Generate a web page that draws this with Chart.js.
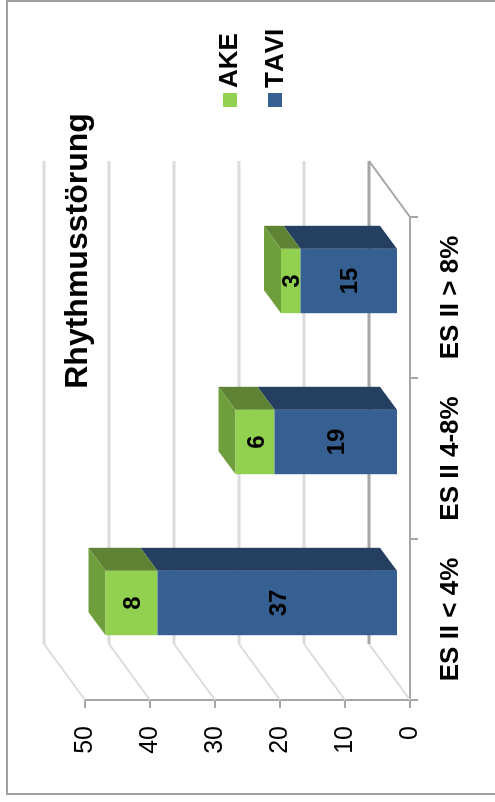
<!DOCTYPE html>
<html>
<head>
<meta charset="utf-8">
<style>
  html, body { margin: 0; padding: 0; background: #fff; overflow: hidden; }
  body { width: 495px; height: 802px; position: relative; }
  /* The chart reads sideways: the canvas is turned a quarter-turn to the left. */
  #stage { position: absolute; left: 0; top: 802px; width: 802px; height: 495px;
           transform-origin: 0 0; transform: rotate(-90deg); }
</style>
<script src="https://cdn.jsdelivr.net/npm/chart.js@4"></script>
</head>
<body>
<div id="stage"><canvas id="chart" width="802" height="495"></canvas></div>
<script>
const chartTitle = 'Rhythmusstörung';
const categories = ['ES II < 4%', 'ES II 4-8%', 'ES II > 8%'];
const tavi = [37, 19, 15];
const ake = [8, 6, 3];
const seriesColors = { AKE: '#92d050', TAVI: '#376092' };
const sideColors = { AKE: '#5f8335', TAVI: '#243f60' };
const capColor = '#6f9e3c';

const FONT = '"Liberation Sans", Arial, sans-serif';
const GRID = '#dcdcdc';
const AXIS = '#a6a6a6';

// Oblique offsets of the pseudo-3D projection, in canvas pixels.
const WALL = { dx: 56, dy: -41 };      // front axis plane to back wall
const BAR_PLANE = { dx: 16.5, dy: -12 }; // front axis plane to bar front face
const BAR_DEPTH = { dx: 23, dy: -17 };   // bar front face to bar back face

function poly(ctx, pts, fill) {
  ctx.beginPath();
  pts.forEach((p, i) => (i ? ctx.lineTo(p[0], p[1]) : ctx.moveTo(p[0], p[1])));
  ctx.closePath();
  ctx.fillStyle = fill;
  ctx.fill();
}

function line(ctx, x0, y0, x1, y1, color, width) {
  ctx.beginPath();
  ctx.moveTo(x0, y0);
  ctx.lineTo(x1, y1);
  ctx.strokeStyle = color;
  ctx.lineWidth = width;
  ctx.stroke();
}

const depthPlugin = {
  id: 'depth',
  beforeDraw(chart) {
    const ctx = chart.ctx;
    ctx.save();
    ctx.fillStyle = '#fff';
    ctx.fillRect(0, 0, chart.width, chart.height);
    ctx.strokeStyle = '#a0a0a0';
    ctx.lineWidth = 2;
    ctx.strokeRect(8, 7, 793, 600);
    ctx.restore();
  },
  beforeDatasetsDraw(chart) {
    const ctx = chart.ctx;
    const { left, right } = chart.chartArea;
    const yScale = chart.scales.y;
    ctx.save();

    // Back wall and floor gridlines
    yScale.ticks.forEach((tick) => {
      const y = yScale.getPixelForValue(tick.value);
      const bx = left + WALL.dx, by = y + WALL.dy;
      line(ctx, left, y, bx, by, GRID, 2);
      line(ctx, bx, by, right + WALL.dx, by, tick.value === 0 ? AXIS : GRID, 3);
    });
    const y0 = yScale.getPixelForValue(0);
    line(ctx, right, y0, right + WALL.dx, y0 + WALL.dy, AXIS, 2);

    // Everything of the bars sits on a plane set back from the axes
    ctx.translate(BAR_PLANE.dx, BAR_PLANE.dy);
    const d = BAR_DEPTH;
    chart.data.datasets.forEach((ds, di) => {
      chart.getDatasetMeta(di).data.forEach((bar) => {
        const { x, y, base, width } = bar.getProps(['x', 'y', 'base', 'width'], true);
        const r = x + width / 2;
        poly(ctx, [[r, y], [r, base], [r + d.dx, base + d.dy], [r + d.dx, y + d.dy]], sideColors[ds.label]);
      });
    });
    const last = chart.data.datasets.length - 1;
    chart.getDatasetMeta(last).data.forEach((bar) => {
      const { x, y, width } = bar.getProps(['x', 'y', 'width'], true);
      const l = x - width / 2, r = x + width / 2;
      poly(ctx, [[l, y], [r, y], [r + d.dx, y + d.dy], [l + d.dx, y + d.dy]], capColor);
    });
  },
  afterDatasetsDraw(chart) {
    const ctx = chart.ctx;
    ctx.font = 'bold 24px ' + FONT;
    ctx.fillStyle = '#000';
    ctx.textAlign = 'center';
    ctx.textBaseline = 'middle';
    chart.data.datasets.forEach((ds, di) => {
      chart.getDatasetMeta(di).data.forEach((bar, i) => {
        const { x, y, base } = bar.getProps(['x', 'y', 'base'], true);
        ctx.fillText(String(ds.data[i]), x, (y + base) / 2 + 2);
      });
    });
    ctx.restore();
  },
  afterDraw(chart) {
    const ctx = chart.ctx;
    ctx.save();
    ctx.fillStyle = '#000';
    ctx.textBaseline = 'middle';

    // Title
    ctx.font = 'bold 32px ' + FONT;
    ctx.textAlign = 'center';
    ctx.fillText(chartTitle, 551, 78);

    // Legend
    ctx.font = 'bold 26px ' + FONT;
    ctx.fontKerning = 'none';
    ctx.textAlign = 'left';
    [['AKE', 230], ['TAVI', 276]].forEach(([name, cy]) => {
      ctx.fillStyle = seriesColors[name];
      ctx.fillRect(695, (name === 'AKE' ? 230 : 275) - 7, 14, 14);
      ctx.fillStyle = '#000';
      ctx.fillText(name, 714, cy);
    });
    ctx.restore();
  }
};

new Chart(document.getElementById('chart'), {
  type: 'bar',
  data: {
    labels: categories,
    datasets: [
      { label: 'TAVI', data: tavi, backgroundColor: seriesColors.TAVI, stack: 's' },
      { label: 'AKE', data: ake, backgroundColor: seriesColors.AKE, stack: 's' }
    ]
  },
  options: {
    responsive: false,
    animation: false,
    layout: { padding: { left: 0, right: 217, top: 85, bottom: 0 } },
    plugins: { legend: { display: false }, title: { display: false }, tooltip: { enabled: false } },
    datasets: { bar: { barPercentage: 0.4, categoryPercentage: 1 } },
    scales: {
      x: {
        stacked: true,
        afterFit(scale) { scale.height = 85; },
        border: { color: AXIS, width: 2 },
        grid: { drawOnChartArea: false, color: AXIS, tickColor: AXIS, tickLength: 8, lineWidth: 2 },
        ticks: { color: '#000', padding: 17, maxRotation: 0, autoSkip: false,
                 font: { family: FONT, size: 26, weight: 'bold' } }
      },
      y: {
        stacked: true,
        min: 0,
        max: 50,
        afterFit(scale) { scale.width = 102; },
        border: { color: AXIS, width: 2 },
        grid: { drawOnChartArea: false, color: AXIS, tickColor: AXIS, tickLength: 8, lineWidth: 2 },
        ticks: { stepSize: 10, color: '#000', padding: 18, font: { family: FONT, size: 25 } }
      }
    }
  },
  plugins: [depthPlugin]
});
</script>
</body>
</html>
